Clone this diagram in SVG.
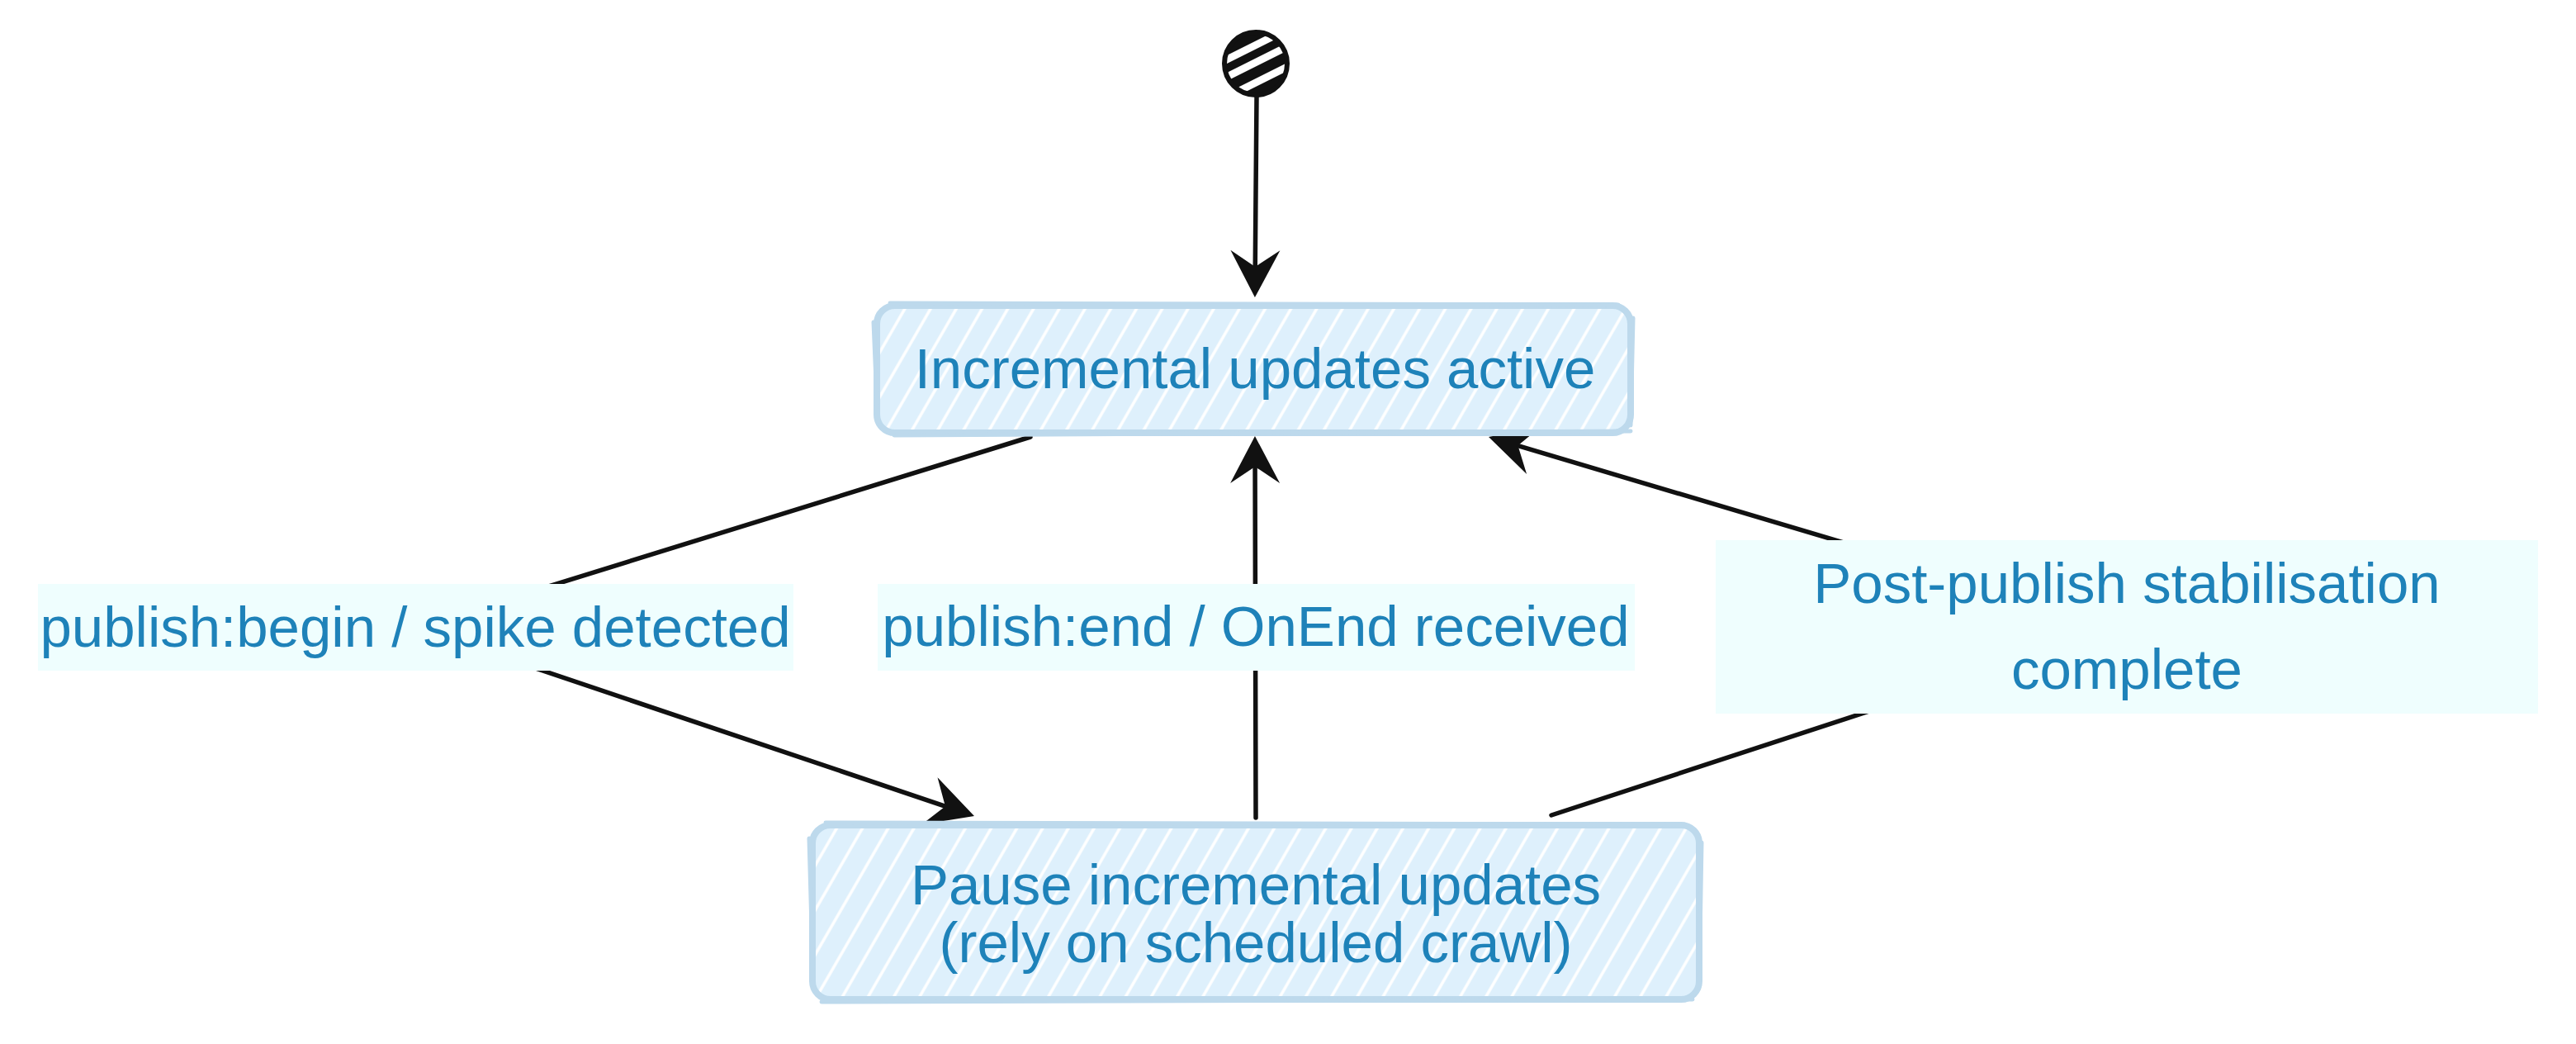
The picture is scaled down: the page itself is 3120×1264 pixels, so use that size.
<svg xmlns="http://www.w3.org/2000/svg" width="3120" height="1264" viewBox="0 0 3120 1264">
<style>
.node-shape{fill:url(#hatch);stroke:#bdd9ec;stroke-width:8;stroke-linejoin:round}
.node-sketch{fill:none;stroke:#bdd9ec;stroke-width:5;stroke-linecap:round}
.txt{font-family:"Liberation Sans",Arial,sans-serif;font-size:69px;fill:#1e82b9;text-anchor:middle}
.edge{fill:none;stroke:#111;stroke-width:5.5;stroke-linecap:round;stroke-linejoin:round}
.lbl-bg{fill:#effefe}
</style>
<defs>
<pattern id="hatch" patternUnits="userSpaceOnUse" width="27" height="27" patternTransform="rotate(30)">
<rect width="27" height="27" fill="#def0fc"/>
<line x1="2" y1="0" x2="2" y2="27" stroke="#ffffff" stroke-width="3.5"/>
</pattern>
<marker id="arrow" markerUnits="userSpaceOnUse" viewBox="-60 -32 62 64" refX="-10" refY="0" markerWidth="62" markerHeight="64" orient="auto">
<path d="M0,0 L-57,-30 L-37,0 L-57,30 Z" fill="#111"/>
</marker>
<clipPath id="startClip"><circle cx="1521" cy="77" r="38"/></clipPath>
</defs>
<rect width="3120" height="1264" fill="#ffffff"/>

<g id="connectors">
<path class="edge" d="M1522,117 L1520,350" marker-end="url(#arrow)"/>
<path class="edge" d="M1521,990 L1520,538" marker-end="url(#arrow)"/>
<path class="edge" d="M1248,529 L503,760 L1170.5,984.8" marker-end="url(#arrow)"/>
<path class="edge" d="M1879,987 L2576,759 L1812.6,531.9" marker-end="url(#arrow)"/>
</g>

<g id="start">
<circle cx="1521" cy="77" r="38" fill="#111"/>
<g clip-path="url(#startClip)" stroke="#ffffff" stroke-width="9">
<line x1="1470" y1="80" x2="1570" y2="30"/>
<line x1="1470" y1="101" x2="1570" y2="51"/>
<line x1="1475" y1="123" x2="1575" y2="73"/>
</g>
<circle cx="1521" cy="77" r="38" fill="none" stroke="#111" stroke-width="6"/>
</g>

<g id="state-active">
<rect class="node-shape" x="1062" y="370" width="913" height="154" rx="22"/>
<path class="node-sketch" d="M1078,367 L1960,369 M1083,527 L1975,522 M1058,390 L1063,510 M1978,385 L1975,515"/>
<text class="txt" x="1520" y="470">Incremental updates active</text>
</g>

<g id="state-paused">
<rect class="node-shape" x="984" y="999" width="1074" height="211" rx="22"/>
<path class="node-sketch" d="M1000,996 L2040,998 M995,1213 L2050,1210 M980,1015 L985,1195 M2061,1020 L2058,1195"/>
<text class="txt" x="1521" y="1095">Pause incremental updates</text>
<text class="txt" x="1521" y="1165">(rely on scheduled crawl)</text>
</g>

<g id="label-begin">
<rect class="lbl-bg" x="46" y="707" width="915" height="105"/>
<text class="txt" x="503" y="783">publish:begin / spike detected</text>
</g>

<g id="label-end">
<rect class="lbl-bg" x="1063" y="707" width="917" height="105"/>
<text class="txt" x="1521" y="782">publish:end / OnEnd received</text>
</g>

<g id="label-stabilised">
<rect class="lbl-bg" x="2078" y="654" width="996" height="210"/>
<text class="txt" x="2576" y="730">Post-publish stabilisation</text>
<text class="txt" x="2576" y="834">complete</text>
</g>
</svg>
